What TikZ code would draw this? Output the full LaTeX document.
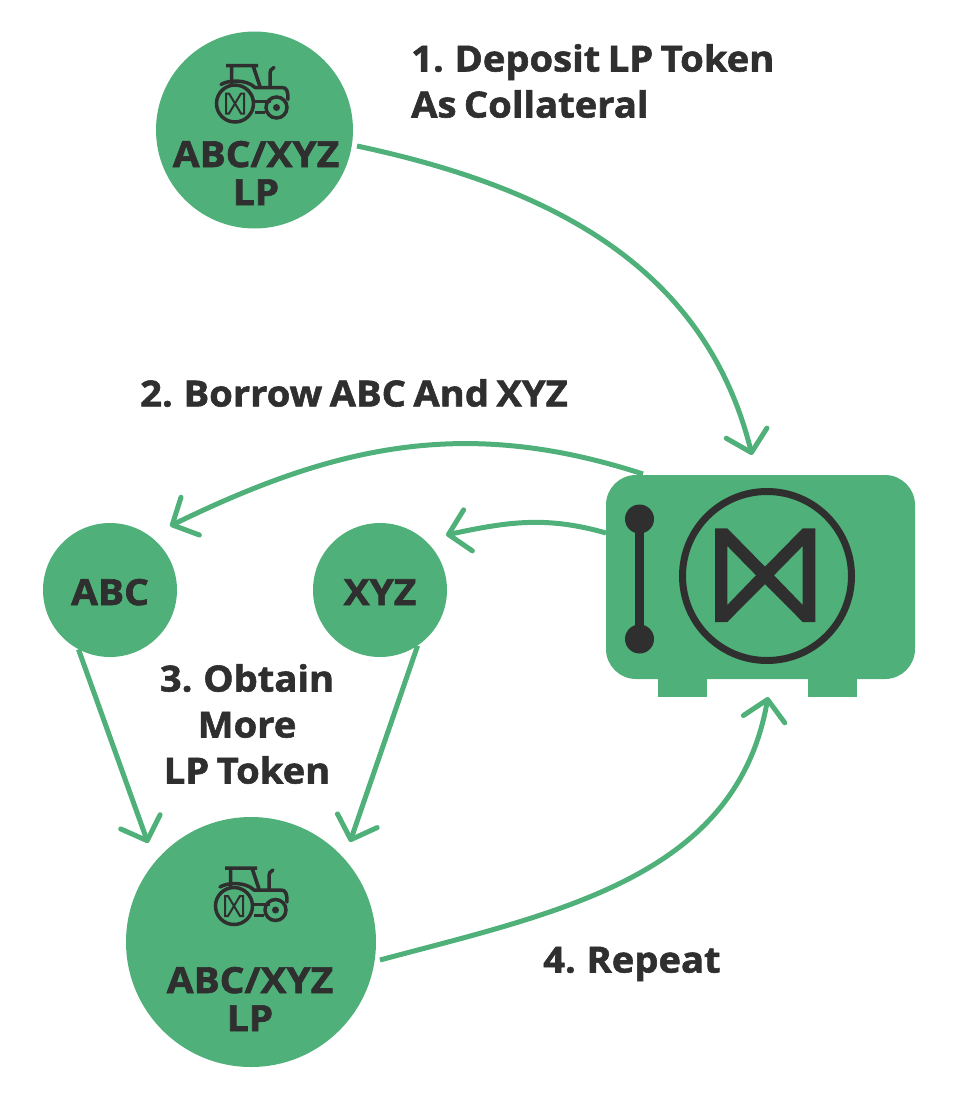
\documentclass[tikz,border=0pt]{standalone}
\usepackage{fontspec}
\setmainfont{Open Sans}[BoldFeatures={FakeBold=1.6, FakeStretch=1.06}, WordSpace=0.75]
\newfontfamily\tokenfont{Open Sans}[BoldFeatures={FakeBold=1.8, FakeStretch=1.08}]
\usetikzlibrary{arrows.meta}

\definecolor{vaultgreen}{HTML}{4FB179}
\definecolor{inkdark}{HTML}{2F2F2F}

\tikzset{
	token/.style={circle, fill=vaultgreen, inner sep=0pt, align=center, text=inkdark, font=\tokenfont\bfseries\fontsize{36}{38}\selectfont},
	coin/.style={token, minimum size=134pt, text height=30pt, text depth=0pt},
	caption/.style={inner sep=0pt, align=left, text=inkdark, font=\bfseries\fontsize{36}{46}\selectfont},
	flow/.style={draw=vaultgreen, line width=5pt, -{Straight Barb[length=20pt, width=42pt, line width=5pt, round]}},
	pics/tractor/.style={code={
		\draw[inkdark, line width=3.5pt] (0, 0) circle (18.5);
		\draw[inkdark, line width=3.5pt] (41.5, 4) circle (10.5);
		\fill[inkdark] (41.5, 4) circle (3.5);
		\draw[inkdark, line width=3.5pt, line join=round] (-9, -38) -- (23, -38) (-3.5, -38) -- (-3.5, -19) (18, -38) -- (25, -17);
		\draw[inkdark, line width=3.5pt, line join=round, line cap=round] (-14, -19) .. controls (-6, -24) and (12, -24) .. (20, -16) -- (47, -16) .. controls (52, -16) and (53, -12) .. (53, -4);
		\draw[inkdark, line width=3.5pt, line cap=round] (35, -17) -- (35, -28) .. controls (35, -33) and (36, -35) .. (39, -36);
		\draw[inkdark, line width=3pt] (20, -2) -- (36, -2) (20, 9) -- (30, 9);
		\draw[inkdark, line width=2pt, line join=miter] (-9, -10) -- (-6, -10) -- (6, 10) -- (9, 10) -- (9, -10) -- (6, -10) -- (-6, 10) -- (-9, 10) -- cycle;
	}},
}

\begin{document}
\begin{tikzpicture}[x=1pt, y=-1pt]
	\useasboundingbox (0, 0) rectangle (960, 1098);

	% tokens
	\node[token, minimum size=197pt] (lptop) at (254.5, 130) {};
	\node[coin] (abc) at (110, 590) {ABC};
	\node[coin] (xyz) at (380, 590) {XYZ};
	\node[token, minimum size=250pt] (lpbottom) at (251, 942) {};
	\pic at (235, 103.5) {tractor};
	\pic at (234, 906) {tractor};
	\node[token, fill=none] (lptoplabel) at (256, 173) {ABC/XYZ\\LP};
	\node[token, fill=none] (lpbottomlabel) at (250, 999) {ABC/XYZ\\LP};

	% vault
	\fill[vaultgreen] (657.5, 670) rectangle (707, 697);
	\fill[vaultgreen] (808, 670) rectangle (857, 697);
	\node[fill=vaultgreen, rounded corners=30pt, minimum width=309pt, minimum height=204pt, inner sep=0pt] (vault) at (760.5, 577) {};
	\draw[inkdark, line width=7pt] (767, 576) circle (84.5);
	\draw[inkdark, line width=9pt] (639.5, 519) -- (639.5, 639);
	\fill[inkdark] (639.5, 519) circle (14.5) (639.5, 639) circle (14.5);
	\fill[inkdark, even odd rule] (715, 528.3) -- (727.3, 528.3) -- (765, 566.7) -- (802.7, 528.3) -- (815.3, 528.3) -- (815.3, 622) -- (802.7, 622) -- (765, 584) -- (727.3, 622) -- (715, 622) -- cycle
		(727.3, 546) -- (756, 575.3) -- (727.3, 605) -- cycle
		(802.7, 546) -- (774, 575.3) -- (802.7, 605) -- cycle;

	% free arrow ends
	\coordinate (vaulttop) at (752, 455);
	\coordinate (abctip) at (170, 526);
	\coordinate (xyztip) at (446, 535);
	\coordinate (bottomleft) at (148, 843);
	\coordinate (bottomright) at (350, 842);
	\coordinate (vaultfoot) at (768, 697);
	\coordinate (vaultleft) at (606, 533);
	\coordinate (vaultupper) at (643, 474);
	\coordinate (lpstart) at (357, 146);
	\coordinate (lpreturn) at (380, 960);

	% arrows
	\draw[flow] (lpstart) to[out=-12, in=104] (vaulttop);
	\draw[flow] (vaultupper) to[out=162, in=26] (abctip);
	\draw[flow] (vaultleft) to[out=164, in=12] (xyztip);
	\draw[flow] (abc.-118) -- (bottomleft);
	\draw[flow] (xyz.-56) -- (bottomright);
	\draw[flow] (lpreturn) to[out=15, in=-100] (vaultfoot);

	% captions
	\node[caption, anchor=west] (stepone) at (411, 81) {1. Deposit LP Token\\As Collateral};
	\node[caption, anchor=west] (steptwo) at (140, 393) {2. Borrow ABC And XYZ};
	\node[caption, align=center] (stepthree) at (247, 724) {3. Obtain\\More\\LP Token};
	\node[caption, anchor=west] (stepfour) at (543, 964) {4. Repeat};
\end{tikzpicture}
\end{document}
